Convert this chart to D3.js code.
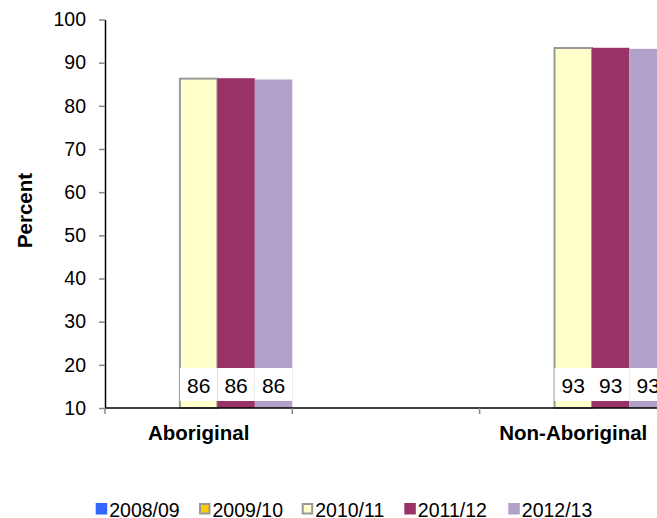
<!DOCTYPE html>
<html>
<head>
<meta charset="utf-8">
<script src="https://cdnjs.cloudflare.com/ajax/libs/d3/7.8.5/d3.min.js"></script>
<style>
  body { margin: 0; background: #fff; }
  svg { display: block; overflow: hidden; font-family: "Liberation Sans", Arial, sans-serif; }
</style>
</head>
<body>
<svg id="chart" width="657" height="518"></svg>
<script>
// ----- Data ---------------------------------------------------------------
var CATEGORIES = ['Aboriginal', '', 'Non-Aboriginal'];
var SERIES = ['2008/09', '2009/10', '2010/11', '2011/12', '2012/13'];
var VALUES_0809 = [null, null, null];
var VALUES_0910 = [null, null, null];
var VALUES_1011 = [86.3, null, 93.4];
var VALUES_1112 = [86.4, null, 93.45];
var VALUES_1213 = [86.1, null, 93.2];
var Y_TICKS = [10, 20, 30, 40, 50, 60, 70, 80, 90, 100];

var COLORS = ['#3366ff', '#ffcc00', '#ffffcc', '#993366', '#b1a0c7'];
var BORDERS = [null, '#999999', '#999999', null, null];

var SVG = d3.select('#chart');

var allValues = [VALUES_0809, VALUES_0910, VALUES_1011, VALUES_1112, VALUES_1213];
var bars = [];
SERIES.forEach(function(s, i) {
  CATEGORIES.forEach(function(c, j) {
    if (allValues[i][j] != null) bars.push({series: s, idx: i, cat: c, value: allValues[i][j]});
  });
});

// ----- Scales -------------------------------------------------------------
var plotLeft = 105, plotTop = 19.5, plotBottom = 408;
var band = 187.3;

var x = d3.scaleBand().domain(CATEGORIES).range([plotLeft, plotLeft + band * CATEGORIES.length]).padding(0);
var xs = d3.scaleBand().domain(SERIES).range([0, x.bandwidth()]).padding(0);
var y = d3.scaleLinear().domain([10, 100]).range([plotBottom, plotTop]);

// ----- Bars ---------------------------------------------------------------
SVG.append('g').selectAll('rect')
    .data(bars)
  .enter().append('rect')
    .attr('x', function(d) { return x(d.cat) + xs(d.series); })
    .attr('y', function(d) { return y(d.value); })
    .attr('width', xs.bandwidth())
    .attr('height', function(d) { return y(10) - y(d.value); })
    .attr('fill', function(d) { return COLORS[d.idx]; })
    .attr('stroke', function(d) { return BORDERS[d.idx] || 'none'; })
    .attr('stroke-width', 2);

// data labels, white boxes near the base
var lbl = SVG.append('g').selectAll('g')
    .data(bars)
  .enter().append('g')
    .attr('transform', function(d) { return 'translate(' + (x(d.cat) + xs(d.series)) + ',0)'; });

lbl.append('rect')
    .attr('x', 0)
    .attr('y', 368)
    .attr('width', xs.bandwidth())
    .attr('height', 33)
    .attr('fill', '#fff');

lbl.append('text')
    .attr('x', xs.bandwidth() / 2)
    .attr('y', 392.5)
    .attr('text-anchor', 'middle')
    .style('font-size', '21px')
    .text(function(d) { return d3.format('.0f')(d.value); });

// ----- Axes ---------------------------------------------------------------
var yAxis = SVG.append('g')
    .attr('transform', 'translate(' + plotLeft + ',0)')
    .call(d3.axisLeft(y).tickValues(Y_TICKS).tickSize(6).tickSizeOuter(0).tickPadding(13));
yAxis.select('.domain').attr('stroke', '#000').attr('stroke-width', 1.5);
yAxis.selectAll('.tick line').attr('stroke', '#888').attr('stroke-width', 1.5);
yAxis.selectAll('.tick text')
    .style('font-size', '19.5px')
    .style('font-family', '"Liberation Sans", Arial, sans-serif')
    .attr('fill', '#000');

// category axis
var xg = SVG.append('g');
xg.append('line')
    .attr('x1', plotLeft).attr('x2', x.range()[1])
    .attr('y1', plotBottom).attr('y2', plotBottom)
    .attr('stroke', '#000').attr('stroke-width', 1.5);

var bounds = CATEGORIES.map(function(c) { return x(c); }).concat([x.range()[1]]);
xg.selectAll('line.tick')
    .data(bounds)
  .enter().append('line')
    .attr('class', 'tick')
    .attr('x1', function(d) { return d; }).attr('x2', function(d) { return d; })
    .attr('y1', plotBottom).attr('y2', plotBottom + 6)
    .attr('stroke', '#888').attr('stroke-width', 1.5);

xg.selectAll('text')
    .data(CATEGORIES.filter(function(c) { return c !== ''; }))
  .enter().append('text')
    .attr('x', function(d) { return x(d) + x.bandwidth() / 2; })
    .attr('y', 440)
    .attr('text-anchor', 'middle')
    .style('font-size', '20.5px')
    .style('font-weight', 'bold')
    .text(function(d) { return d; });

SVG.append('text')
    .attr('transform', 'translate(31.5,210.5) rotate(-90)')
    .attr('text-anchor', 'middle')
    .style('font-size', '20.5px')
    .style('font-weight', 'bold')
    .text('Percent');

// ----- Legend -------------------------------------------------------------
var LEGEND_X = [95.7, 199, 301.7, 404.3, 508.3];
var leg = SVG.append('g').selectAll('g')
    .data(SERIES)
  .enter().append('g')
    .attr('transform', function(d, i) { return 'translate(' + LEGEND_X[i] + ',503)'; });

leg.append('rect')
    .attr('x', function(d, i) { return BORDERS[i] ? 1 : 0; })
    .attr('y', function(d, i) { return BORDERS[i] ? 1 : 0; })
    .attr('width', function(d, i) { return BORDERS[i] ? 9.5 : 11.5; })
    .attr('height', function(d, i) { return BORDERS[i] ? 9.5 : 11.5; })
    .attr('fill', function(d, i) { return COLORS[i]; })
    .attr('stroke', function(d, i) { return BORDERS[i] || 'none'; })
    .attr('stroke-width', 2);

leg.append('text')
    .attr('x', 13.5)
    .attr('y', 14)
    .style('font-size', '19.5px')
    .text(function(d) { return d; });
</script>
</body>
</html>
